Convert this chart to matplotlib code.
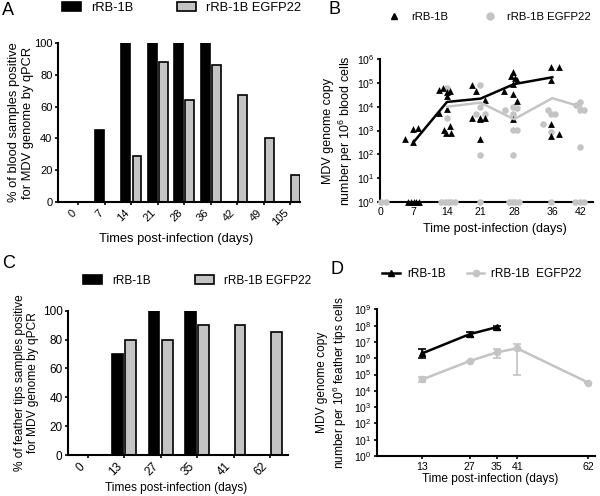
import matplotlib
matplotlib.use('Agg')
import matplotlib.pyplot as plt
from matplotlib.lines import Line2D
from matplotlib.patches import Patch
from matplotlib.ticker import NullLocator
import numpy as np

plt.rcParams['font.family'] = ['Liberation Sans', 'DejaVu Sans']
plt.rcParams['mathtext.fontset'] = 'custom'
plt.rcParams['mathtext.rm'] = 'Liberation Sans'
plt.rcParams['mathtext.default'] = 'regular'

# --- A: % of blood samples positive ---
blood_days = ['0', '7', '14', '21', '28', '36', '42', '49', '105']
blood_rrb = [0, 45, 100, 100, 100, 100, 0, 0, 0]
blood_egfp = [0, 0, 29, 88, 64, 86, 67, 40, 17]

# --- C: % of feather tips samples positive ---
feather_days = ['0', '13', '27', '35', '41', '62']
feather_rrb = [0, 70, 100, 100, 0, 0]
feather_egfp = [0, 80, 80, 90, 90, 85]

# --- B: blood viral load per bird (undetected drawn at 10^0) ---
blood_ticks = [0, 7, 14, 21, 28, 36, 42]
rrb_x = [5.2, 6.9, 7.9, 6.8, 5.8, 6.4, 7.0, 7.6, 8.2,
         12.3, 13.2, 14.1, 14.6, 13.9, 12.3, 13.3, 14.6, 13.8, 14.8, 14.1,
         19.2, 20.1, 19.2, 20.9, 21.9, 20.9, 21.9, 20.8,
         27.7, 27.3, 28.2, 28.6, 26.0, 27.7, 28.6, 27.7, 27.7,
         35.7, 37.5, 35.7, 35.7, 35.7, 37.5]
rrb_y = [430, 1150, 1230, 320, 1, 1, 1, 1, 1,
         5.1e4, 6.0e4, 4.1e4, 4.4e4, 2.8e4, 5.4e3, 1.1e3, 1.6e3, 760, 760, 8e3,
         8.3e4, 4.7e4, 3.5e3, 3.5e3, 3.5e3, 420, 2.0e4, 3.0e3,
         3.0e5, 2.0e5, 1.6e5, 1.35e5, 4.4e4, 3.4e4, 1.8e4, 3.0e3, 9e4,
         4.9e5, 4.9e5, 1.35e5, 1.8e3, 600, 720]
egfp_x = [0.3, 1.2,
          14.0, 14.0, 12.8, 13.5, 14.2, 14.9, 15.6,
          20.9, 20.9, 20.1, 21.9, 20.9, 20.9,
          26.1, 27.7, 28.6, 27.7, 27.7, 28.6, 27.7, 26.9, 27.6, 28.3, 29.0,
          35.0, 35.7, 36.6, 34.1, 35.7, 35.7,
          41.7, 41.0, 41.7, 42.7, 41.7, 40.8, 41.7, 42.6]
egfp_y = [1, 1,
          6.3e4, 3.5e3, 1, 1, 1, 1, 1,
          8.3e4, 1.0e4, 5.0e3, 5.0e3, 93, 1,
          7.2e3, 1.0e4, 8.7e3, 5.2e3, 1.05e3, 1.05e3, 93, 1, 1, 1, 1,
          7.2e3, 5.2e3, 5.2e3, 1.8e3, 900, 1,
          1.6e4, 1.15e4, 7.2e3, 7.2e3, 210, 1, 1, 1]
rrb_mean_days = [7, 14, 21, 28, 36]
rrb_mean = [320, 1.6e4, 2.2e4, 9e4, 1.75e5]
egfp_mean_days = [14, 21, 28, 36, 42]
egfp_mean = [1e4, 1.5e4, 3e3, 2.3e4, 1e4]

# --- D: feather tips viral load (mean and error bar ends) ---
ft_ticks = [13, 27, 35, 41, 62]
ft_rrb_days = [13, 27, 35]
ft_rrb = [2e6, 3e7, 8e7]
ft_rrb_lo = [1.07e6, 2.1e7, 5.4e7]
ft_rrb_hi = [3.5e6, 4.3e7, 1e8]
ft_egfp_days = [13, 27, 35, 41, 62]
ft_egfp = [5e4, 6.7e5, 2.3e6, 4e6, 3.2e4]
ft_egfp_lo = [3.3e4, 6.7e5, 1.1e6, 1e5, 3.2e4]
ft_egfp_hi = [7e4, 6.7e5, 3.6e6, 7e6, 3.2e4]

GRAY = '#c4c4c4'
W, H = 600.0, 496.0


def box(left, top, right, bottom):
    return [left / W, 1 - bottom / H, (right - left) / W, (bottom - top) / H]


def style(ax, ts):
    for s in ['top', 'right']:
        ax.spines[s].set_visible(False)
    for s in ['left', 'bottom']:
        ax.spines[s].set_linewidth(1.5)
    ax.tick_params(width=1.2, length=2.5, labelsize=ts, pad=1.5)


fig = plt.figure(figsize=(6, 4.96), dpi=100)

# ---------------- A ----------------
ax = fig.add_axes(box(58, 43, 300, 202))
style(ax, 8)
x = np.arange(len(blood_days))
ax.bar(x - 0.21, blood_rrb, 0.33, color='black', edgecolor='black', linewidth=1.2)
ax.bar(x + 0.21, blood_egfp, 0.33, color=GRAY, edgecolor='black', linewidth=1.2)
ax.set_xlim(-0.77, 8.37)
ax.set_ylim(0, 100)
ax.set_yticks([0, 20, 40, 60, 80, 100])
ax.set_xticks(x)
ax.set_xticklabels(blood_days, rotation=45, ha='right')
ax.set_xlabel('Times post-infection (days)', fontsize=9.3)
ax.set_ylabel('% of blood samples positive\nfor MDV genome by qPCR', fontsize=9.3)
ax.xaxis.set_label_coords(0.49, -0.195)
ax.yaxis.set_label_coords(-0.1, 0.5)
hA = [Patch(facecolor='black', edgecolor='black', linewidth=1.2),
      Patch(facecolor=GRAY, edgecolor='black', linewidth=1.2)]
fig.legend(hA, ['rRB-1B', 'rRB-1B EGFP22'], loc='center left',
           bbox_to_anchor=(62 / W, 1 - 8 / H), ncol=2, frameon=False,
           fontsize=9.3, handlelength=1.45, handleheight=0.75,
           handletextpad=0.8, columnspacing=3.4, borderpad=0, borderaxespad=0)
fig.text(2 / W, 1 - 2 / H, 'A', fontsize=13, va='top', ha='left')

# ---------------- B ----------------
ax = fig.add_axes(box(380, 59.3, 593, 201.7))
style(ax, 7.6)
ax.set_yscale('log')
ax.scatter(egfp_x, egfp_y, s=22, marker='o', color=GRAY, linewidths=0,
           clip_on=False, zorder=3)
ax.scatter(rrb_x, rrb_y, s=24, marker='^', color='black', linewidths=0,
           clip_on=False, zorder=4)
ax.plot(egfp_mean_days, egfp_mean, color=GRAY, lw=1.8, zorder=5)
ax.plot(rrb_mean_days, rrb_mean, color='black', lw=1.8, zorder=6)
ax.set_xlim(0, 44.5)
ax.set_ylim(1, 1e6)
ax.set_yticks([10.0 ** i for i in range(7)])
ax.yaxis.set_minor_locator(NullLocator())
ax.set_xticks(blood_ticks)
ax.set_xlabel('Time post-infection (days)', fontsize=9.0)
ax.set_ylabel('MDV genome copy\nnumber per 10$^{6}$ blood cells', fontsize=9.0)
ax.xaxis.set_label_coords(0.54, -0.15)
ax.yaxis.set_label_coords(-0.118, 0.5)
hB = [Line2D([], [], ls='none', marker='^', ms=5, color='black'),
      Line2D([], [], ls='none', marker='o', ms=5, color=GRAY)]
fig.legend(hB, ['rRB-1B', 'rRB-1B EGFP22'], loc='center left',
           bbox_to_anchor=(388 / W, 1 - 17 / H), ncol=2, frameon=False,
           fontsize=8.2, handlelength=1.1, handletextpad=0.9,
           columnspacing=3.2, borderpad=0, borderaxespad=0)
fig.text(328 / W, 1 - 1 / H, 'B', fontsize=13, va='top', ha='left')

# ---------------- C ----------------
ax = fig.add_axes(box(68, 310.7, 288, 455))
style(ax, 8.5)
x = np.arange(len(feather_days))
ax.bar(x - 0.18, feather_rrb, 0.29, color='black', edgecolor='black', linewidth=1.2)
ax.bar(x + 0.18, feather_egfp, 0.29, color=GRAY, edgecolor='black', linewidth=1.2)
ax.set_xlim(-0.54, 5.49)
ax.set_ylim(0, 100)
ax.set_yticks([0, 20, 40, 60, 80, 100])
ax.set_xticks(x)
ax.set_xticklabels(feather_days, rotation=45, ha='right')
ax.set_xlabel('Times post-infection (days)', fontsize=8.6)
ax.set_ylabel('% of feather tips samples positive\nfor MDV genome by qPCR', fontsize=8.6)
ax.xaxis.set_label_coords(0.49, -0.19)
ax.yaxis.set_label_coords(-0.13, 0.5)
fig.legend(hA, ['rRB-1B', 'rRB-1B EGFP22'], loc='center left',
           bbox_to_anchor=(83 / W, 1 - 280.5 / H), ncol=2, frameon=False,
           fontsize=8.5, handlelength=1.6, handleheight=0.85,
           handletextpad=0.85, columnspacing=3.8, borderpad=0, borderaxespad=0)
fig.text(2 / W, 1 - 255 / H, 'C', fontsize=13, va='top', ha='left')

# ---------------- D ----------------
ax = fig.add_axes(box(377, 309.3, 595, 456))
style(ax, 7.6)
ax.set_yscale('log')
eg = np.array(ft_egfp)
ax.errorbar(ft_egfp_days, ft_egfp,
            yerr=[eg - np.array(ft_egfp_lo), np.array(ft_egfp_hi) - eg],
            color=GRAY, lw=1.8, marker='o', ms=4.5, capsize=3, elinewidth=1.2,
            capthick=1.2, zorder=3)
rb = np.array(ft_rrb)
ax.errorbar(ft_rrb_days, ft_rrb,
            yerr=[rb - np.array(ft_rrb_lo), np.array(ft_rrb_hi) - rb],
            color='black', lw=1.8, marker='^', ms=5, capsize=3, elinewidth=1.2,
            capthick=1.2, zorder=4)
ax.set_xlim(-0.4, 64)
ax.set_ylim(1, 1e9)
ax.set_yticks([10.0 ** i for i in range(10)])
ax.yaxis.set_minor_locator(NullLocator())
ax.set_xticks(ft_ticks)
ax.set_xlabel('Time post-infection (days)', fontsize=8.6)
ax.set_ylabel('MDV genome copy\nnumber per 10$^{6}$ feather tips cells', fontsize=8.6)
ax.xaxis.set_label_coords(0.52, -0.115)
ax.yaxis.set_label_coords(-0.13, 0.5)
hD = [Line2D([], [], color='black', lw=1.8, marker='^', ms=5),
      Line2D([], [], color=GRAY, lw=1.8, marker='o', ms=4.5)]
fig.legend(hD, ['rRB-1B', 'rRB-1B  EGFP22'], loc='center left',
           bbox_to_anchor=(382 / W, 1 - 274 / H), ncol=2, frameon=False,
           fontsize=8.5, handlelength=1.5, handletextpad=0.6,
           columnspacing=1.8, borderpad=0, borderaxespad=0)
fig.text(330 / W, 1 - 261 / H, 'D', fontsize=13, va='top', ha='left')

fig.savefig('out.png', dpi=100)
